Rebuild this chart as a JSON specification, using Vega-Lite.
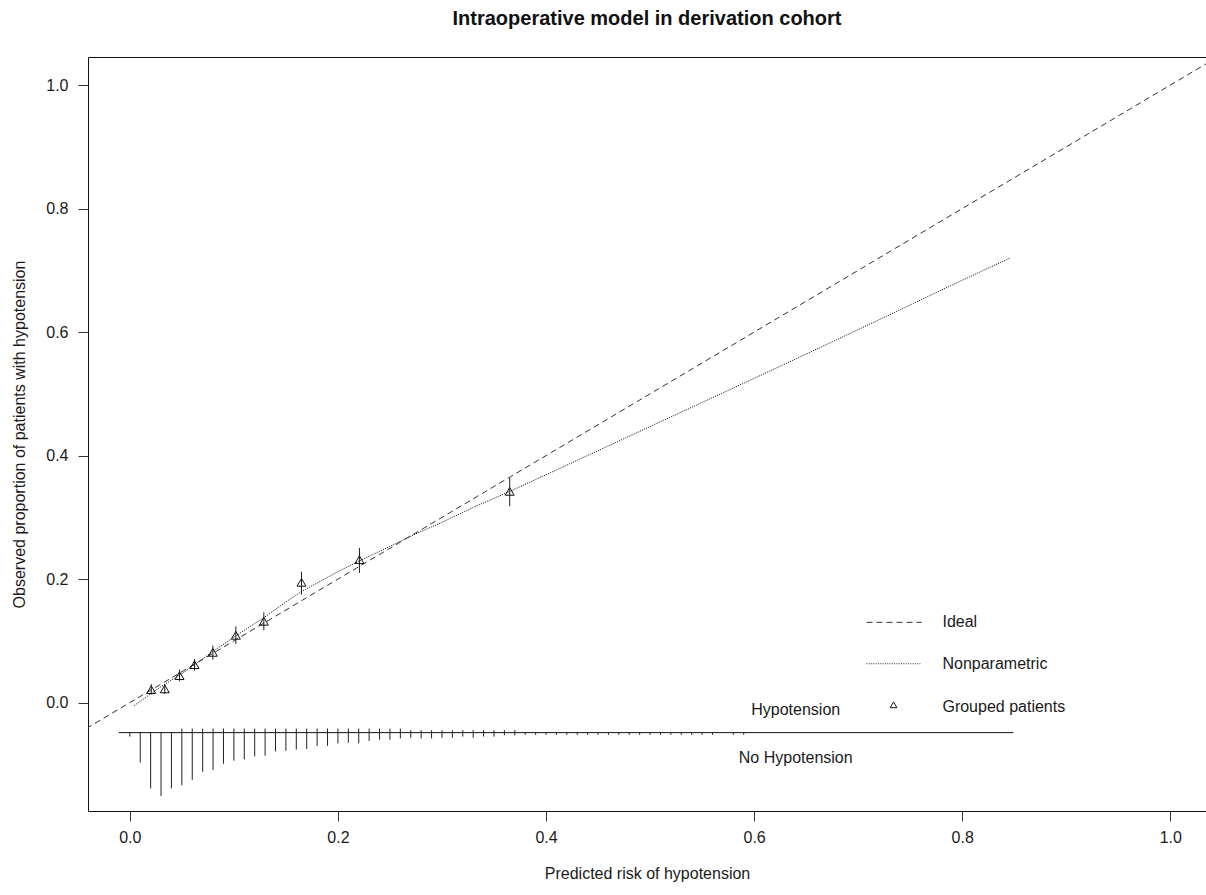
{
  "$schema": "https://vega.github.io/schema/vega-lite/v6.json",
  "autosize": {"type": "none"},
  "padding": {"left": 88, "top": 57, "right": 0, "bottom": 84},
  "width": 1118,
  "height": 754,
  "background": "white",
  "title": {
    "text": "Intraoperative model in derivation cohort",
    "font": "Liberation Sans",
    "fontSize": 20,
    "fontWeight": "bold",
    "color": "#111",
    "anchor": "middle",
    "offset": 28
  },
  "config": {
    "view": {"stroke": "#111", "strokeWidth": 1},
    "axis": {
      "domain": false,
      "grid": false,
      "ticks": true,
      "tickSize": 10,
      "tickColor": "#333",
      "labelFont": "Liberation Sans",
      "labelFontSize": 16,
      "labelColor": "#1a1a1a",
      "titleFont": "Liberation Sans",
      "titleFontSize": 16,
      "titleFontWeight": "normal",
      "titleColor": "#1a1a1a"
    },
    "text": {"font": "Liberation Sans", "fontSize": 16, "color": "#1a1a1a"}
  },
  "datasets": {
    "ideal": [
      {"risk": -0.05, "observed": -0.05},
      {"risk": 1.05, "observed": 1.05}
    ],
    "smooth": [
      {"risk": 0.004, "observed": -0.005},
      {"risk": 0.02, "observed": 0.014},
      {"risk": 0.03, "observed": 0.026},
      {"risk": 0.05, "observed": 0.047},
      {"risk": 0.065, "observed": 0.065},
      {"risk": 0.08, "observed": 0.083},
      {"risk": 0.1, "observed": 0.106},
      {"risk": 0.13, "observed": 0.139},
      {"risk": 0.15, "observed": 0.163},
      {"risk": 0.165, "observed": 0.18},
      {"risk": 0.2, "observed": 0.212},
      {"risk": 0.22, "observed": 0.229},
      {"risk": 0.25, "observed": 0.253},
      {"risk": 0.273, "observed": 0.272},
      {"risk": 0.3, "observed": 0.292},
      {"risk": 0.33, "observed": 0.316},
      {"risk": 0.365, "observed": 0.342},
      {"risk": 0.4, "observed": 0.369},
      {"risk": 0.5, "observed": 0.447},
      {"risk": 0.6, "observed": 0.525},
      {"risk": 0.7, "observed": 0.604},
      {"risk": 0.8, "observed": 0.684},
      {"risk": 0.846, "observed": 0.72}
    ],
    "groups": [
      {"risk": 0.0206, "observed": 0.021, "lower": 0.013, "upper": 0.03},
      {"risk": 0.0336, "observed": 0.0222, "lower": 0.014, "upper": 0.03},
      {"risk": 0.0478, "observed": 0.0437, "lower": 0.0345, "upper": 0.0534},
      {"risk": 0.0622, "observed": 0.0615, "lower": 0.0518, "upper": 0.0707},
      {"risk": 0.0798, "observed": 0.0814, "lower": 0.0696, "upper": 0.0923},
      {"risk": 0.1019, "observed": 0.109, "lower": 0.095, "upper": 0.1235},
      {"risk": 0.1288, "observed": 0.1317, "lower": 0.1171, "upper": 0.1462},
      {"risk": 0.165, "observed": 0.1948, "lower": 0.1748, "upper": 0.2121},
      {"risk": 0.2207, "observed": 0.2315, "lower": 0.21, "upper": 0.2504},
      {"risk": 0.3651, "observed": 0.3421, "lower": 0.3178, "upper": 0.3638}
    ],
    "rug_axis": [
      {"risk": -0.0105, "risk_end": 0.849, "observed": -0.0486}
    ],
    "rug_no": [
      {"risk": 0.0, "observed": -0.0486, "bar_end": -0.055},
      {"risk": 0.01, "observed": -0.0486, "bar_end": -0.097},
      {"risk": 0.02, "observed": -0.0486, "bar_end": -0.139},
      {"risk": 0.03, "observed": -0.0486, "bar_end": -0.151},
      {"risk": 0.04, "observed": -0.0486, "bar_end": -0.139},
      {"risk": 0.05, "observed": -0.0486, "bar_end": -0.134},
      {"risk": 0.06, "observed": -0.0486, "bar_end": -0.125},
      {"risk": 0.07, "observed": -0.0486, "bar_end": -0.112},
      {"risk": 0.08, "observed": -0.0486, "bar_end": -0.109},
      {"risk": 0.09, "observed": -0.0486, "bar_end": -0.099},
      {"risk": 0.1, "observed": -0.0486, "bar_end": -0.094},
      {"risk": 0.11, "observed": -0.0486, "bar_end": -0.092},
      {"risk": 0.12, "observed": -0.0486, "bar_end": -0.087},
      {"risk": 0.13, "observed": -0.0486, "bar_end": -0.086},
      {"risk": 0.14, "observed": -0.0486, "bar_end": -0.079},
      {"risk": 0.15, "observed": -0.0486, "bar_end": -0.078},
      {"risk": 0.16, "observed": -0.0486, "bar_end": -0.076},
      {"risk": 0.17, "observed": -0.0486, "bar_end": -0.075},
      {"risk": 0.18, "observed": -0.0486, "bar_end": -0.07},
      {"risk": 0.19, "observed": -0.0486, "bar_end": -0.07},
      {"risk": 0.2, "observed": -0.0486, "bar_end": -0.066},
      {"risk": 0.21, "observed": -0.0486, "bar_end": -0.065},
      {"risk": 0.22, "observed": -0.0486, "bar_end": -0.066},
      {"risk": 0.23, "observed": -0.0486, "bar_end": -0.062},
      {"risk": 0.24, "observed": -0.0486, "bar_end": -0.06},
      {"risk": 0.25, "observed": -0.0486, "bar_end": -0.06},
      {"risk": 0.26, "observed": -0.0486, "bar_end": -0.058},
      {"risk": 0.27, "observed": -0.0486, "bar_end": -0.057},
      {"risk": 0.28, "observed": -0.0486, "bar_end": -0.058},
      {"risk": 0.29, "observed": -0.0486, "bar_end": -0.058},
      {"risk": 0.3, "observed": -0.0486, "bar_end": -0.057},
      {"risk": 0.31, "observed": -0.0486, "bar_end": -0.057},
      {"risk": 0.32, "observed": -0.0486, "bar_end": -0.055},
      {"risk": 0.33, "observed": -0.0486, "bar_end": -0.057},
      {"risk": 0.34, "observed": -0.0486, "bar_end": -0.055},
      {"risk": 0.35, "observed": -0.0486, "bar_end": -0.055},
      {"risk": 0.36, "observed": -0.0486, "bar_end": -0.053},
      {"risk": 0.37, "observed": -0.0486, "bar_end": -0.053},
      {"risk": 0.38, "observed": -0.0486, "bar_end": -0.052},
      {"risk": 0.39, "observed": -0.0486, "bar_end": -0.052},
      {"risk": 0.4, "observed": -0.0486, "bar_end": -0.052},
      {"risk": 0.41, "observed": -0.0486, "bar_end": -0.052},
      {"risk": 0.42, "observed": -0.0486, "bar_end": -0.052},
      {"risk": 0.43, "observed": -0.0486, "bar_end": -0.052},
      {"risk": 0.44, "observed": -0.0486, "bar_end": -0.052},
      {"risk": 0.45, "observed": -0.0486, "bar_end": -0.052},
      {"risk": 0.46, "observed": -0.0486, "bar_end": -0.052},
      {"risk": 0.47, "observed": -0.0486, "bar_end": -0.052},
      {"risk": 0.48, "observed": -0.0486, "bar_end": -0.052},
      {"risk": 0.49, "observed": -0.0486, "bar_end": -0.052},
      {"risk": 0.5, "observed": -0.0486, "bar_end": -0.052},
      {"risk": 0.51, "observed": -0.0486, "bar_end": -0.052},
      {"risk": 0.52, "observed": -0.0486, "bar_end": -0.052},
      {"risk": 0.53, "observed": -0.0486, "bar_end": -0.052},
      {"risk": 0.54, "observed": -0.0486, "bar_end": -0.052},
      {"risk": 0.55, "observed": -0.0486, "bar_end": -0.052},
      {"risk": 0.56, "observed": -0.0486, "bar_end": -0.052},
      {"risk": 0.58, "observed": -0.0486, "bar_end": -0.052},
      {"risk": 0.59, "observed": -0.0486, "bar_end": -0.052}
    ],
    "rug_yes": [
      {"risk": 0.05, "observed": -0.0486, "bar_end": -0.042},
      {"risk": 0.06, "observed": -0.0486, "bar_end": -0.042},
      {"risk": 0.07, "observed": -0.0486, "bar_end": -0.042},
      {"risk": 0.08, "observed": -0.0486, "bar_end": -0.042},
      {"risk": 0.09, "observed": -0.0486, "bar_end": -0.042},
      {"risk": 0.1, "observed": -0.0486, "bar_end": -0.042},
      {"risk": 0.11, "observed": -0.0486, "bar_end": -0.042},
      {"risk": 0.12, "observed": -0.0486, "bar_end": -0.042},
      {"risk": 0.13, "observed": -0.0486, "bar_end": -0.042},
      {"risk": 0.14, "observed": -0.0486, "bar_end": -0.042},
      {"risk": 0.15, "observed": -0.0486, "bar_end": -0.042},
      {"risk": 0.16, "observed": -0.0486, "bar_end": -0.042},
      {"risk": 0.17, "observed": -0.0486, "bar_end": -0.042},
      {"risk": 0.18, "observed": -0.0486, "bar_end": -0.042},
      {"risk": 0.19, "observed": -0.0486, "bar_end": -0.042},
      {"risk": 0.2, "observed": -0.0486, "bar_end": -0.042},
      {"risk": 0.21, "observed": -0.0486, "bar_end": -0.042},
      {"risk": 0.22, "observed": -0.0486, "bar_end": -0.042},
      {"risk": 0.23, "observed": -0.0486, "bar_end": -0.042},
      {"risk": 0.24, "observed": -0.0486, "bar_end": -0.042},
      {"risk": 0.25, "observed": -0.0486, "bar_end": -0.042},
      {"risk": 0.26, "observed": -0.0486, "bar_end": -0.042},
      {"risk": 0.27, "observed": -0.0486, "bar_end": -0.0446},
      {"risk": 0.28, "observed": -0.0486, "bar_end": -0.0446},
      {"risk": 0.29, "observed": -0.0486, "bar_end": -0.0446},
      {"risk": 0.3, "observed": -0.0486, "bar_end": -0.0446},
      {"risk": 0.31, "observed": -0.0486, "bar_end": -0.0446},
      {"risk": 0.32, "observed": -0.0486, "bar_end": -0.0446},
      {"risk": 0.33, "observed": -0.0486, "bar_end": -0.0446},
      {"risk": 0.34, "observed": -0.0486, "bar_end": -0.0446},
      {"risk": 0.35, "observed": -0.0486, "bar_end": -0.0446},
      {"risk": 0.36, "observed": -0.0486, "bar_end": -0.0446},
      {"risk": 0.37, "observed": -0.0486, "bar_end": -0.0446}
    ],
    "rug_labels": [
      {"risk": 0.64, "observed": -0.0113, "label": "Hypotension"},
      {"risk": 0.64, "observed": -0.089, "label": "No Hypotension"}
    ],
    "key_lines": [
      {"risk": 0.708, "risk_end": 0.761, "observed": 0.13, "style": "Ideal"},
      {"risk": 0.708, "risk_end": 0.761, "observed": 0.063, "style": "Nonparametric"}
    ],
    "key_point": [
      {"risk": 0.734, "observed": -0.0035}
    ],
    "key_labels": [
      {"risk": 0.781, "observed": 0.13, "label": "Ideal"},
      {"risk": 0.781, "observed": 0.063, "label": "Nonparametric"},
      {"risk": 0.781, "observed": -0.0075, "label": "Grouped patients"}
    ]
  },
  "encoding": {
    "x": {
      "field": "risk",
      "type": "quantitative",
      "scale": {"domain": [-0.0402, 1.0343], "nice": false, "zero": false},
      "axis": {
        "title": "Predicted risk of hypotension",
        "values": [0, 0.2, 0.4, 0.6, 0.8, 1.0],
        "format": ".1f",
        "labelPadding": 8,
        "titlePadding": 20
      }
    },
    "y": {
      "field": "observed",
      "type": "quantitative",
      "scale": {"domain": [-0.1755, 1.0455], "nice": false, "zero": false},
      "axis": {
        "title": "Observed proportion of patients with hypotension",
        "values": [0, 0.2, 0.4, 0.6, 0.8, 1.0],
        "format": ".1f",
        "labelPadding": 10,
        "titlePadding": 18
      }
    }
  },
  "layer": [
    {
      "data": {"name": "ideal"},
      "mark": {"type": "line", "clip": true, "color": "#333", "strokeWidth": 1, "strokeDash": [6, 4]}
    },
    {
      "data": {"name": "smooth"},
      "mark": {"type": "line", "color": "#000", "strokeWidth": 1, "strokeDash": [1, 1.3]}
    },
    {
      "data": {"name": "groups"},
      "mark": {"type": "rule", "color": "#222", "strokeWidth": 1},
      "encoding": {
        "y": {"field": "lower", "type": "quantitative"},
        "y2": {"field": "upper"}
      }
    },
    {
      "data": {"name": "groups"},
      "mark": {"type": "point", "shape": "triangle-up", "filled": false, "size": 80, "color": "#111", "strokeWidth": 1, "opacity": 1}
    },
    {
      "data": {"name": "rug_axis"},
      "mark": {"type": "rule", "color": "#111", "strokeWidth": 1},
      "encoding": {
        "x2": {"field": "risk_end"}
      }
    },
    {
      "data": {"name": "rug_no"},
      "mark": {"type": "rule", "color": "#222", "strokeWidth": 1},
      "encoding": {
        "y2": {"field": "bar_end"}
      }
    },
    {
      "data": {"name": "rug_yes"},
      "mark": {"type": "rule", "color": "#222", "strokeWidth": 1},
      "encoding": {
        "y2": {"field": "bar_end"}
      }
    },
    {
      "data": {"name": "rug_labels"},
      "mark": {"type": "text", "align": "center", "baseline": "middle"},
      "encoding": {"text": {"field": "label"}}
    },
    {
      "data": {"name": "key_lines"},
      "mark": {"type": "rule", "color": "#333", "strokeWidth": 1},
      "encoding": {
        "x2": {"field": "risk_end"},
        "strokeDash": {
          "field": "style",
          "type": "nominal",
          "scale": {"domain": ["Ideal", "Nonparametric"], "range": [[6, 4], [1, 1.3]]},
          "legend": null
        }
      }
    },
    {
      "data": {"name": "key_point"},
      "mark": {"type": "point", "shape": "triangle-up", "filled": false, "size": 45, "color": "#111", "strokeWidth": 1, "opacity": 1}
    },
    {
      "data": {"name": "key_labels"},
      "mark": {"type": "text", "align": "left", "baseline": "middle"},
      "encoding": {"text": {"field": "label"}}
    }
  ]
}
